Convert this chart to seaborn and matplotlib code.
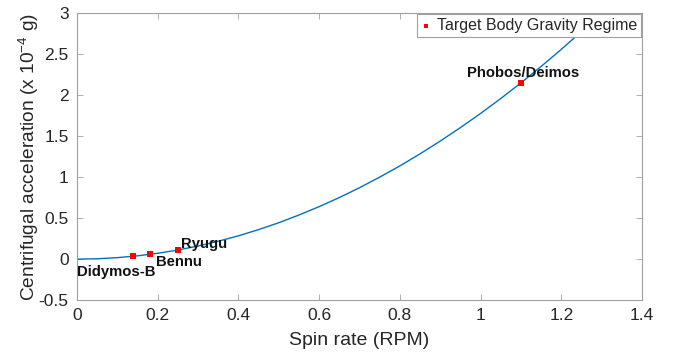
import matplotlib
matplotlib.use("Agg")
import matplotlib.pyplot as plt
import seaborn as sns
import pandas as pd

# Centrifugal acceleration curve (x 1e-4 g) vs spin rate (RPM)
spin_rpm = [0.0, 0.05, 0.10, 0.15, 0.20, 0.25, 0.30, 0.35, 0.40, 0.45, 0.50,
            0.55, 0.60, 0.65, 0.70, 0.75, 0.80, 0.85, 0.90, 0.95, 1.00, 1.05,
            1.10, 1.15, 1.20, 1.25, 1.30]
accel = [0.0, 0.004, 0.018, 0.040, 0.071, 0.111, 0.160, 0.218, 0.284, 0.360,
         0.444, 0.538, 0.640, 0.751, 0.871, 1.000, 1.137, 1.284, 1.440, 1.604,
         1.777, 1.959, 2.150, 2.350, 2.559, 2.777, 3.003]

# Target bodies
bodies = ["Didymos-B", "Bennu", "Ryugu", "Phobos/Deimos"]
body_rpm = [0.14, 0.18, 0.25, 1.10]
body_accel = [0.035, 0.058, 0.111, 2.150]

sns.set_style("white")
plt.rcParams["font.family"] = ["Liberation Sans", "DejaVu Sans"]
plt.rcParams["mathtext.fontset"] = "custom"
plt.rcParams["mathtext.rm"] = "Liberation Sans"
plt.rcParams["mathtext.it"] = "Liberation Sans"

fig = plt.figure(figsize=(6.73, 3.56), dpi=100)
ax = fig.add_axes([0.1144, 0.157, 0.8396, 0.806])

curve = pd.DataFrame({"rpm": spin_rpm, "acc": accel})
pts = pd.DataFrame({"rpm": body_rpm, "acc": body_accel, "name": bodies})

sns.lineplot(data=curve, x="rpm", y="acc", ax=ax, color="#0072BD", lw=1.0,
             zorder=2)
sns.scatterplot(data=pts, x="rpm", y="acc", ax=ax, color="#FF0000",
                marker="s", s=13, linewidth=0, zorder=3,
                label="Target Body Gravity Regime")

# Labels next to the bodies
offsets = {
    "Didymos-B": (0.0, -0.16, "left"),
    "Bennu": (0.196, -0.035, "left"),
    "Ryugu": (0.258, 0.183, "left"),
    "Phobos/Deimos": (1.105, 2.27, "center"),
}
for name in bodies:
    tx, ty, ha = offsets[name]
    ax.text(tx, ty, name, fontsize=10.7, fontweight="bold", ha=ha,
            va="center", color="#111111", zorder=4)

ax.set_xlim(0, 1.4)
ax.set_ylim(-0.5, 3)
ax.set_xticks([0, 0.2, 0.4, 0.6, 0.8, 1, 1.2, 1.4])
ax.set_xticklabels(["0", "0.2", "0.4", "0.6", "0.8", "1", "1.2", "1.4"])
ax.set_yticks([-0.5, 0, 0.5, 1, 1.5, 2, 2.5, 3])
ax.set_yticklabels(["-0.5", "0", "0.5", "1", "1.5", "2", "2.5", "3"])

ax.set_xlabel("Spin rate (RPM)", fontsize=14, color="#262626", labelpad=6)
ax.set_ylabel("Centrifugal acceleration (x 10$^{-4}$ g)", fontsize=13.8,
              color="#262626")
ax.yaxis.set_label_coords(-0.064, 0.5)

for sp in ax.spines.values():
    sp.set_visible(True)
    sp.set_color("#a0a0a0")
    sp.set_linewidth(0.8)
ax.tick_params(direction="in", length=4, width=0.6, color="#a0a0a0",
               labelsize=12.5, labelcolor="#262626", top=True, right=True,
               bottom=True, left=True, pad=6)

leg = ax.legend(loc="upper right", fontsize=11.5, frameon=True,
                fancybox=False, framealpha=1, edgecolor="#a0a0a0",
                borderpad=0.25, handlelength=0.6, handletextpad=0.4,
                borderaxespad=0.05, markerscale=0.9)
leg.get_frame().set_linewidth(0.8)
leg.set_zorder(5)

fig.savefig("out.png", dpi=100)
